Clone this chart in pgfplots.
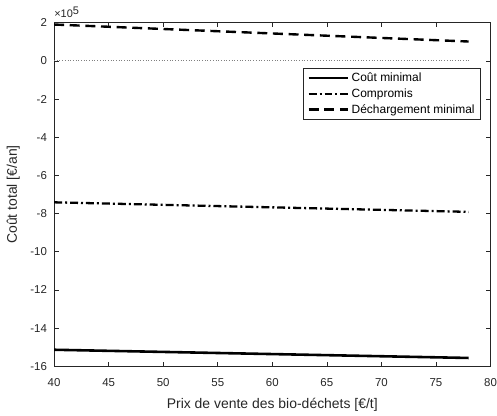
\documentclass[border=0pt]{standalone}
\usepackage{fontspec}
\setmainfont{Liberation Sans}
\usepackage{pgfplots}
\pgfplotsset{compat=1.18}
\definecolor{axgray}{gray}{0.15}
\begin{document}
\begin{tikzpicture}
\begin{axis}[
  scale only axis,
  clip=false,
  width=438pt, height=345pt,
  xmin=40, xmax=80, ymin=-1600000, ymax=200000,
  xtick={40,45,...,80},
  ytick={-1600000,-1400000,-1200000,-1000000,-800000,-600000,-400000,-200000,0,200000},
  yticklabels={-16,-14,-12,-10,-8,-6,-4,-2,0,2},
  scaled y ticks=false,
  /pgf/number format/assume math mode=true,
  tick label style={font=\fontsize{11.5}{13}\selectfont, text=axgray},
  yticklabel style={inner sep=0pt, xshift=-7pt},
  xticklabel style={inner sep=0pt, yshift=-12pt},
  tick align=inside,
  major tick length=4.5pt,
  tick style={axgray, line width=0.6pt},
  axis line style={axgray, line width=0.6pt},
  every axis x label/.style={at={(axis description cs:0.5,-0.1226)}, anchor=base, font=\fontsize{14}{16}\selectfont, text=axgray},
  every axis y label/.style={at={(axis description cs:-0.0855,0.5)}, anchor=base, rotate=90, font=\fontsize{14}{16}\selectfont, text=axgray},
  xlabel={Prix de vente des bio-déchets [€/t]},
  ylabel={Coût total [€/an]},
  legend style={at={(rel axis cs:0.978,0.8687)}, anchor=north east, draw=axgray, line width=0.6pt,
    font=\fontsize{12}{14}\selectfont, inner xsep=4pt, inner ysep=3pt, row sep=1.5pt,
    nodes={inner xsep=2pt}},
  legend cell align=left,
  legend image code/.code={\draw[#1] (0pt,0pt) -- (40pt,0pt);},
]
\addplot[black, line width=2.6pt] coordinates {(40,-1513000) (78,-1556000)};
\addlegendentry{Coût minimal}
\addplot[black, line width=2.3pt, dash pattern=on 8pt off 3pt on 2pt off 3pt] coordinates {(40,-741000) (78,-791000)};
\addlegendentry{Compromis}
\addplot[black, line width=2.4pt, dash pattern=on 10pt off 5.7pt] coordinates {(40,190000) (78,101000)};
\addlegendentry{Déchargement minimal}
\addplot[gray, line width=0.7pt, dash pattern=on 0.8pt off 1.9pt, forget plot] coordinates {(40,0) (78,0)};
% scale factor of the y ticks
\node[anchor=base west, inner sep=0pt, text=axgray, font=\fontsize{11}{13}\selectfont]
  at (rel axis cs:0,1) [yshift=4.7pt] {×10\raisebox{3.6pt}{5}};
\end{axis}
\pgfresetboundingbox
\path (-54.3pt,-49.3pt) rectangle (444.5pt,367.7pt);
\end{tikzpicture}
\end{document}
